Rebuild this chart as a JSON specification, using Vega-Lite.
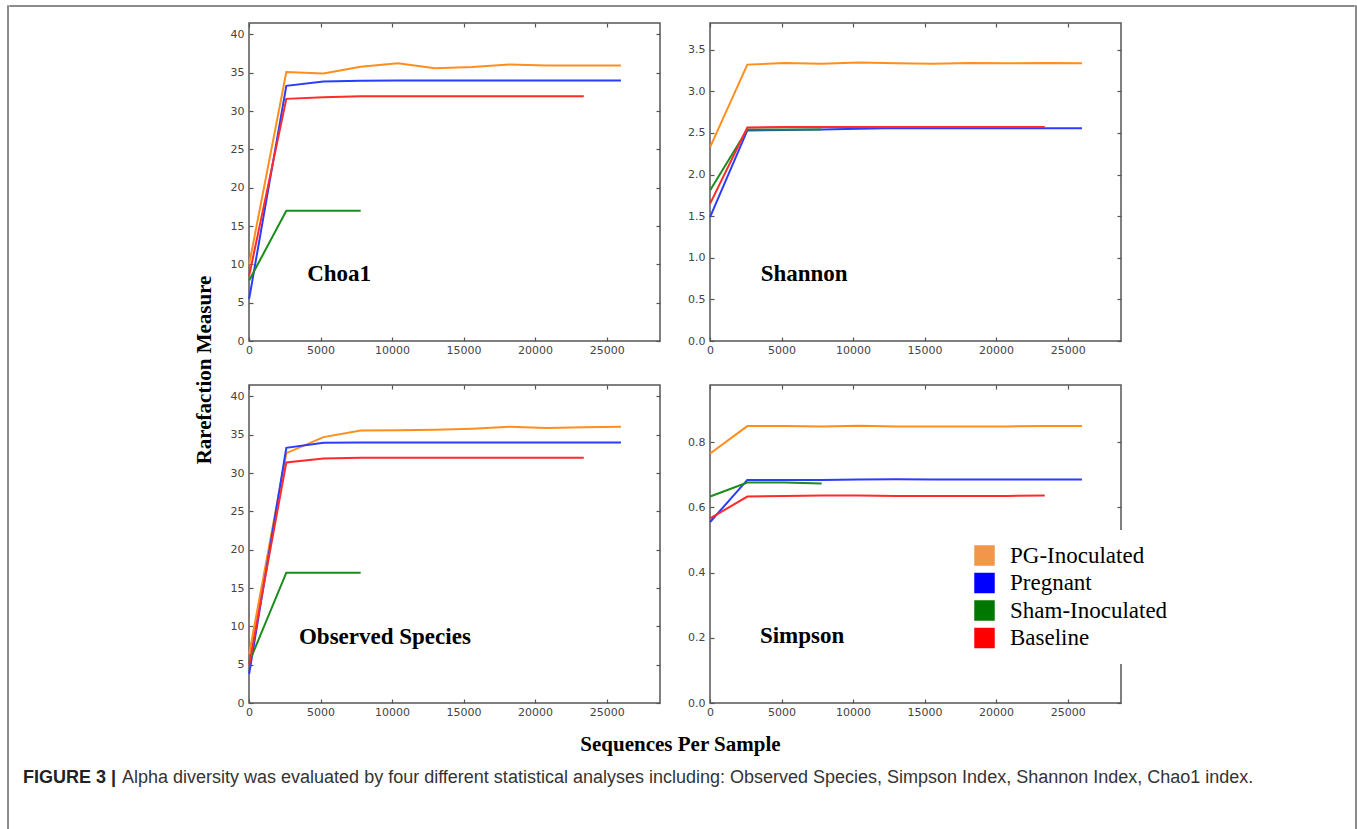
{
  "$schema": "https://vega.github.io/schema/vega-lite/v6.json",
  "padding": {"left": 7, "top": 5, "right": 0, "bottom": 0},
  "background": "white",
  "datasets": {
    "chao1": [
      {"g": "PG-Inoculated", "x": 10, "y": 10.0}, {"g": "PG-Inoculated", "x": 2609, "y": 35.1}, {"g": "PG-Inoculated", "x": 5208, "y": 34.9}, {"g": "PG-Inoculated", "x": 7807, "y": 35.8}, {"g": "PG-Inoculated", "x": 10406, "y": 36.25}, {"g": "PG-Inoculated", "x": 13005, "y": 35.6}, {"g": "PG-Inoculated", "x": 15604, "y": 35.75}, {"g": "PG-Inoculated", "x": 18203, "y": 36.1}, {"g": "PG-Inoculated", "x": 20802, "y": 35.95}, {"g": "PG-Inoculated", "x": 23401, "y": 35.95}, {"g": "PG-Inoculated", "x": 26000, "y": 35.95},
      {"g": "Pregnant", "x": 10, "y": 5.5}, {"g": "Pregnant", "x": 2609, "y": 33.3}, {"g": "Pregnant", "x": 5208, "y": 33.85}, {"g": "Pregnant", "x": 7807, "y": 33.95}, {"g": "Pregnant", "x": 10406, "y": 34.0}, {"g": "Pregnant", "x": 13005, "y": 34.0}, {"g": "Pregnant", "x": 15604, "y": 34.0}, {"g": "Pregnant", "x": 18203, "y": 34.0}, {"g": "Pregnant", "x": 20802, "y": 34.0}, {"g": "Pregnant", "x": 23401, "y": 34.0}, {"g": "Pregnant", "x": 26000, "y": 34.0},
      {"g": "Sham-Inoculated", "x": 10, "y": 7.9}, {"g": "Sham-Inoculated", "x": 2609, "y": 17.0}, {"g": "Sham-Inoculated", "x": 5208, "y": 17.0}, {"g": "Sham-Inoculated", "x": 7807, "y": 17.0},
      {"g": "Baseline", "x": 10, "y": 8.5}, {"g": "Baseline", "x": 2609, "y": 31.6}, {"g": "Baseline", "x": 5208, "y": 31.8}, {"g": "Baseline", "x": 7807, "y": 31.95}, {"g": "Baseline", "x": 10406, "y": 31.95}, {"g": "Baseline", "x": 13005, "y": 31.95}, {"g": "Baseline", "x": 15604, "y": 31.95}, {"g": "Baseline", "x": 18203, "y": 31.95}, {"g": "Baseline", "x": 20802, "y": 31.95}, {"g": "Baseline", "x": 23401, "y": 31.95}
    ],
    "shannon": [
      {"g": "PG-Inoculated", "x": 10, "y": 2.33}, {"g": "PG-Inoculated", "x": 2609, "y": 3.32}, {"g": "PG-Inoculated", "x": 5208, "y": 3.34}, {"g": "PG-Inoculated", "x": 7807, "y": 3.33}, {"g": "PG-Inoculated", "x": 10406, "y": 3.345}, {"g": "PG-Inoculated", "x": 13005, "y": 3.335}, {"g": "PG-Inoculated", "x": 15604, "y": 3.33}, {"g": "PG-Inoculated", "x": 18203, "y": 3.34}, {"g": "PG-Inoculated", "x": 20802, "y": 3.335}, {"g": "PG-Inoculated", "x": 23401, "y": 3.34}, {"g": "PG-Inoculated", "x": 26000, "y": 3.335},
      {"g": "Pregnant", "x": 10, "y": 1.49}, {"g": "Pregnant", "x": 2609, "y": 2.53}, {"g": "Pregnant", "x": 5208, "y": 2.535}, {"g": "Pregnant", "x": 7807, "y": 2.54}, {"g": "Pregnant", "x": 10406, "y": 2.55}, {"g": "Pregnant", "x": 13005, "y": 2.56}, {"g": "Pregnant", "x": 15604, "y": 2.555}, {"g": "Pregnant", "x": 18203, "y": 2.555}, {"g": "Pregnant", "x": 20802, "y": 2.555}, {"g": "Pregnant", "x": 23401, "y": 2.555}, {"g": "Pregnant", "x": 26000, "y": 2.555},
      {"g": "Sham-Inoculated", "x": 10, "y": 1.81}, {"g": "Sham-Inoculated", "x": 2609, "y": 2.54}, {"g": "Sham-Inoculated", "x": 5208, "y": 2.54}, {"g": "Sham-Inoculated", "x": 7807, "y": 2.54},
      {"g": "Baseline", "x": 10, "y": 1.65}, {"g": "Baseline", "x": 2609, "y": 2.565}, {"g": "Baseline", "x": 5208, "y": 2.57}, {"g": "Baseline", "x": 7807, "y": 2.57}, {"g": "Baseline", "x": 10406, "y": 2.57}, {"g": "Baseline", "x": 13005, "y": 2.57}, {"g": "Baseline", "x": 15604, "y": 2.57}, {"g": "Baseline", "x": 18203, "y": 2.57}, {"g": "Baseline", "x": 20802, "y": 2.57}, {"g": "Baseline", "x": 23401, "y": 2.57}
    ],
    "observed": [
      {"g": "PG-Inoculated", "x": 10, "y": 6.4}, {"g": "PG-Inoculated", "x": 2609, "y": 32.6}, {"g": "PG-Inoculated", "x": 5208, "y": 34.7}, {"g": "PG-Inoculated", "x": 7807, "y": 35.55}, {"g": "PG-Inoculated", "x": 10406, "y": 35.6}, {"g": "PG-Inoculated", "x": 13005, "y": 35.65}, {"g": "PG-Inoculated", "x": 15604, "y": 35.8}, {"g": "PG-Inoculated", "x": 18203, "y": 36.05}, {"g": "PG-Inoculated", "x": 20802, "y": 35.9}, {"g": "PG-Inoculated", "x": 23401, "y": 36.0}, {"g": "PG-Inoculated", "x": 26000, "y": 36.05},
      {"g": "Pregnant", "x": 10, "y": 3.8}, {"g": "Pregnant", "x": 2609, "y": 33.3}, {"g": "Pregnant", "x": 5208, "y": 33.95}, {"g": "Pregnant", "x": 7807, "y": 34.0}, {"g": "Pregnant", "x": 10406, "y": 34.0}, {"g": "Pregnant", "x": 13005, "y": 34.0}, {"g": "Pregnant", "x": 15604, "y": 34.0}, {"g": "Pregnant", "x": 18203, "y": 34.0}, {"g": "Pregnant", "x": 20802, "y": 34.0}, {"g": "Pregnant", "x": 23401, "y": 34.0}, {"g": "Pregnant", "x": 26000, "y": 34.0},
      {"g": "Sham-Inoculated", "x": 10, "y": 5.3}, {"g": "Sham-Inoculated", "x": 2609, "y": 17.0}, {"g": "Sham-Inoculated", "x": 5208, "y": 17.0}, {"g": "Sham-Inoculated", "x": 7807, "y": 17.0},
      {"g": "Baseline", "x": 10, "y": 5.0}, {"g": "Baseline", "x": 2609, "y": 31.4}, {"g": "Baseline", "x": 5208, "y": 31.9}, {"g": "Baseline", "x": 7807, "y": 32.0}, {"g": "Baseline", "x": 10406, "y": 32.0}, {"g": "Baseline", "x": 13005, "y": 32.0}, {"g": "Baseline", "x": 15604, "y": 32.0}, {"g": "Baseline", "x": 18203, "y": 32.0}, {"g": "Baseline", "x": 20802, "y": 32.0}, {"g": "Baseline", "x": 23401, "y": 32.0}
    ],
    "simpson": [
      {"g": "PG-Inoculated", "x": 10, "y": 0.765}, {"g": "PG-Inoculated", "x": 2609, "y": 0.849}, {"g": "PG-Inoculated", "x": 5208, "y": 0.849}, {"g": "PG-Inoculated", "x": 7807, "y": 0.848}, {"g": "PG-Inoculated", "x": 10406, "y": 0.85}, {"g": "PG-Inoculated", "x": 13005, "y": 0.848}, {"g": "PG-Inoculated", "x": 15604, "y": 0.848}, {"g": "PG-Inoculated", "x": 18203, "y": 0.848}, {"g": "PG-Inoculated", "x": 20802, "y": 0.848}, {"g": "PG-Inoculated", "x": 23401, "y": 0.849}, {"g": "PG-Inoculated", "x": 26000, "y": 0.849},
      {"g": "Pregnant", "x": 10, "y": 0.555}, {"g": "Pregnant", "x": 2609, "y": 0.684}, {"g": "Pregnant", "x": 5208, "y": 0.684}, {"g": "Pregnant", "x": 7807, "y": 0.684}, {"g": "Pregnant", "x": 10406, "y": 0.685}, {"g": "Pregnant", "x": 13005, "y": 0.686}, {"g": "Pregnant", "x": 15604, "y": 0.685}, {"g": "Pregnant", "x": 18203, "y": 0.685}, {"g": "Pregnant", "x": 20802, "y": 0.685}, {"g": "Pregnant", "x": 23401, "y": 0.685}, {"g": "Pregnant", "x": 26000, "y": 0.685},
      {"g": "Sham-Inoculated", "x": 10, "y": 0.633}, {"g": "Sham-Inoculated", "x": 2609, "y": 0.676}, {"g": "Sham-Inoculated", "x": 5208, "y": 0.676}, {"g": "Sham-Inoculated", "x": 7807, "y": 0.673},
      {"g": "Baseline", "x": 10, "y": 0.566}, {"g": "Baseline", "x": 2609, "y": 0.633}, {"g": "Baseline", "x": 5208, "y": 0.635}, {"g": "Baseline", "x": 7807, "y": 0.636}, {"g": "Baseline", "x": 10406, "y": 0.636}, {"g": "Baseline", "x": 13005, "y": 0.635}, {"g": "Baseline", "x": 15604, "y": 0.635}, {"g": "Baseline", "x": 18203, "y": 0.635}, {"g": "Baseline", "x": 20802, "y": 0.635}, {"g": "Baseline", "x": 23401, "y": 0.636}
    ]
  },
  "hconcat": [
    {
      "width": 0.01, "height": 823,
      "view": {"stroke": "#666666", "strokeWidth": 1.5},
      "data": {"values": []},
      "mark": "text",
      "encoding": {"text": {"value": ""}}
    },
    {
      "vconcat": [
        {
          "width": 1344, "height": 0.01,
          "view": {"stroke": "#666666", "strokeWidth": 1.5},
          "data": {"values": []},
          "mark": "text",
          "encoding": {"text": {"value": ""}}
        },
        {
          "vconcat": [
            {
              "hconcat": [
                {
                  "width": 184, "height": 1,
                  "view": {"stroke": null},
                  "data": {"values": []},
                  "mark": "text",
                  "encoding": {"text": {"value": ""}}
                },
                {
                  "title": {"text": "Sequences Per Sample", "orient": "bottom", "anchor": "middle", "font": "Liberation Serif", "fontSize": 21, "fontWeight": "bold", "color": "#000000", "offset": 16, "dx": -8},
                  "vconcat": [
                    {
                      "title": {"text": "Rarefaction Measure", "orient": "left", "anchor": "middle", "font": "Liberation Serif", "fontSize": 21, "fontWeight": "bold", "color": "#000000", "offset": 14},
                      "columns": 2,
                      "spacing": {"row": 44, "column": 50},
                      "bounds": "flush",
                      "resolve": {"scale": {"fill": "independent"}, "legend": {"fill": "independent"}},
                      "concat": [
                        {
                          "width": 411, "height": 318,
                          "layer": [
                            {
                              "data": {"name": "chao1"},
                              "mark": {"type": "line", "strokeWidth": 2},
                              "encoding": {
                                "x": {"field": "x", "type": "quantitative", "scale": {"domain": [0, 28730], "nice": false}, "axis": {"orient": "bottom", "values": [0, 5000, 10000, 15000, 20000, 25000], "format": "d", "title": null}},
                                "y": {"field": "y", "type": "quantitative", "scale": {"domain": [0, 41.5], "nice": false}, "axis": {"orient": "left", "values": [0, 5, 10, 15, 20, 25, 30, 35, 40], "format": "d", "title": null}},
                                "stroke": {"field": "g", "type": "nominal", "scale": {"domain": ["PG-Inoculated", "Pregnant", "Sham-Inoculated", "Baseline"], "range": ["#ff8e1c", "#2a3cff", "#1c8c1c", "#ff2a2a"]}, "legend": null}
                              }
                            },
                            {
                              "data": {"values": [{"label": "Choa1"}]},
                              "mark": {"type": "text", "font": "Liberation Serif", "fontSize": 23, "fontWeight": "bold", "color": "#000000"},
                              "encoding": {
                                "x": {"datum": 6300, "type": "quantitative", "axis": {"orient": "top", "labels": false, "values": [0, 5000, 10000, 15000, 20000, 25000], "title": null}},
                                "y": {"datum": 8.8, "type": "quantitative", "axis": {"orient": "right", "labels": false, "values": [0, 5, 10, 15, 20, 25, 30, 35, 40], "title": null}},
                                "text": {"field": "label"}
                              }
                            }
                          ],
                          "resolve": {"axis": {"x": "independent", "y": "independent"}}
                        },
                        {
                          "width": 411, "height": 318,
                          "layer": [
                            {
                              "data": {"name": "shannon"},
                              "mark": {"type": "line", "strokeWidth": 2},
                              "encoding": {
                                "x": {"field": "x", "type": "quantitative", "scale": {"domain": [0, 28730], "nice": false}, "axis": {"orient": "bottom", "values": [0, 5000, 10000, 15000, 20000, 25000], "format": "d", "title": null}},
                                "y": {"field": "y", "type": "quantitative", "scale": {"domain": [0, 3.82], "nice": false}, "axis": {"orient": "left", "values": [0, 0.5, 1, 1.5, 2, 2.5, 3, 3.5], "format": ".1f", "title": null}},
                                "stroke": {"field": "g", "type": "nominal", "scale": {"domain": ["PG-Inoculated", "Pregnant", "Sham-Inoculated", "Baseline"], "range": ["#ff8e1c", "#2a3cff", "#1c8c1c", "#ff2a2a"]}, "legend": null}
                              }
                            },
                            {
                              "data": {"values": [{"label": "Shannon"}]},
                              "mark": {"type": "text", "font": "Liberation Serif", "fontSize": 23, "fontWeight": "bold", "color": "#000000"},
                              "encoding": {
                                "x": {"datum": 6580, "type": "quantitative", "axis": {"orient": "top", "labels": false, "values": [0, 5000, 10000, 15000, 20000, 25000], "title": null}},
                                "y": {"datum": 0.8, "type": "quantitative", "axis": {"orient": "right", "labels": false, "values": [0, 0.5, 1, 1.5, 2, 2.5, 3, 3.5], "title": null}},
                                "text": {"field": "label"}
                              }
                            }
                          ],
                          "resolve": {"axis": {"x": "independent", "y": "independent"}}
                        },
                        {
                          "width": 411, "height": 318,
                          "layer": [
                            {
                              "data": {"name": "observed"},
                              "mark": {"type": "line", "strokeWidth": 2},
                              "encoding": {
                                "x": {"field": "x", "type": "quantitative", "scale": {"domain": [0, 28730], "nice": false}, "axis": {"orient": "bottom", "values": [0, 5000, 10000, 15000, 20000, 25000], "format": "d", "title": null}},
                                "y": {"field": "y", "type": "quantitative", "scale": {"domain": [0, 41.5], "nice": false}, "axis": {"orient": "left", "values": [0, 5, 10, 15, 20, 25, 30, 35, 40], "format": "d", "title": null}},
                                "stroke": {"field": "g", "type": "nominal", "scale": {"domain": ["PG-Inoculated", "Pregnant", "Sham-Inoculated", "Baseline"], "range": ["#ff8e1c", "#2a3cff", "#1c8c1c", "#ff2a2a"]}, "legend": null}
                              }
                            },
                            {
                              "data": {"values": [{"label": "Observed Species"}]},
                              "mark": {"type": "text", "font": "Liberation Serif", "fontSize": 23, "fontWeight": "bold", "color": "#000000"},
                              "encoding": {
                                "x": {"datum": 9500, "type": "quantitative", "axis": {"orient": "top", "labels": false, "values": [0, 5000, 10000, 15000, 20000, 25000], "title": null}},
                                "y": {"datum": 8.6, "type": "quantitative", "axis": {"orient": "right", "labels": false, "values": [0, 5, 10, 15, 20, 25, 30, 35, 40], "title": null}},
                                "text": {"field": "label"}
                              }
                            }
                          ],
                          "resolve": {"axis": {"x": "independent", "y": "independent"}}
                        },
                        {
                          "width": 411, "height": 318,
                          "layer": [
                            {
                              "data": {"name": "simpson"},
                              "mark": {"type": "line", "strokeWidth": 2},
                              "encoding": {
                                "x": {"field": "x", "type": "quantitative", "scale": {"domain": [0, 28730], "nice": false}, "axis": {"orient": "bottom", "values": [0, 5000, 10000, 15000, 20000, 25000], "format": "d", "title": null}},
                                "y": {"field": "y", "type": "quantitative", "scale": {"domain": [0, 0.975], "nice": false}, "axis": {"orient": "left", "values": [0, 0.2, 0.4, 0.6, 0.8], "format": ".1f", "title": null}},
                                "stroke": {"field": "g", "type": "nominal", "scale": {"domain": ["PG-Inoculated", "Pregnant", "Sham-Inoculated", "Baseline"], "range": ["#ff8e1c", "#2a3cff", "#1c8c1c", "#ff2a2a"]}, "legend": null}
                              }
                            },
                            {
                              "data": {"values": [{"label": "Simpson"}]},
                              "mark": {"type": "text", "font": "Liberation Serif", "fontSize": 23, "fontWeight": "bold", "color": "#000000"},
                              "encoding": {
                                "x": {"datum": 6440, "type": "quantitative", "axis": {"orient": "top", "labels": false, "values": [0, 5000, 10000, 15000, 20000, 25000], "title": null}},
                                "y": {"datum": 0.206, "type": "quantitative", "axis": {"orient": "right", "labels": false, "values": [0, 0.2, 0.4, 0.6, 0.8], "title": null}},
                                "text": {"field": "label"}
                              }
                            },
                            {
                              "data": {"name": "simpson"},
                              "transform": [{"filter": "false"}],
                              "mark": {"type": "point", "shape": "square", "filled": true, "opacity": 1},
                              "encoding": {
                                "x": {"field": "x", "type": "quantitative", "axis": null},
                                "y": {"field": "y", "type": "quantitative", "axis": null},
                                "fill": {
                                  "field": "g", "type": "nominal",
                                  "scale": {"domain": ["PG-Inoculated", "Pregnant", "Sham-Inoculated", "Baseline"], "range": ["#f2964a", "#0000ff", "#007800", "#ff0000"]},
                                  "legend": {"title": null, "orient": "none", "legendX": 249, "legendY": 145, "direction": "vertical", "symbolType": "square", "symbolSize": 420, "symbolStrokeWidth": 0, "symbolOpacity": 1, "labelFont": "Liberation Serif", "labelFontSize": 23, "labelColor": "#000000", "labelOffset": 14, "labelLimit": 400, "rowPadding": 3.5, "padding": 14, "fillColor": "white", "strokeColor": null}
                                }
                              }
                            }
                          ],
                          "resolve": {"axis": {"x": "independent", "y": "independent"}}
                        }
                      ]
                    }
                  ]
                }
              ],
              "spacing": 0
            },
            {
              "hconcat": [
                {
                  "width": 8, "height": 1,
                  "view": {"stroke": null},
                  "data": {"values": []},
                  "mark": "text",
                  "encoding": {"text": {"value": ""}}
                },
                {
                  "width": 1, "height": 1,
                  "view": {"stroke": null},
                  "data": {"values": []},
                  "mark": "text",
                  "encoding": {"text": {"value": ""}},
                  "title": {"text": "FIGURE 3 |", "orient": "top", "anchor": "start", "font": "Liberation Sans", "fontSize": 18, "fontWeight": "bold", "color": "#222222", "offset": 0}
                },
                {
                  "width": 1, "height": 1,
                  "view": {"stroke": null},
                  "data": {"values": []},
                  "mark": "text",
                  "encoding": {"text": {"value": ""}},
                  "title": {"text": "Alpha diversity was evaluated by four different statistical analyses including: Observed Species, Simpson Index, Shannon Index, Chao1 index.", "orient": "top", "anchor": "start", "font": "Liberation Sans", "fontSize": 18, "fontWeight": "normal", "color": "#333333", "offset": 0}
                }
              ],
              "spacing": 5
            }
          ],
          "spacing": 13
        }
      ],
      "spacing": 14
    },
    {
      "width": 0.01, "height": 823,
      "view": {"stroke": "#666666", "strokeWidth": 1.5},
      "data": {"values": []},
      "mark": "text",
      "encoding": {"text": {"value": ""}}
    }
  ],
  "spacing": 0,
  "config": {
    "view": {"stroke": "#555555", "strokeWidth": 1.5},
    "axis": {"domain": false, "grid": false, "ticks": true, "tickSize": -4, "tickColor": "#555555", "tickWidth": 1.2, "labelFont": "DejaVu Sans", "labelFontSize": 11, "labelColor": "#444444", "labelFlush": false, "labelOverlap": false},
    "axisX": {"labelPadding": 7.5},
    "axisY": {"labelPadding": 9}
  }
}
